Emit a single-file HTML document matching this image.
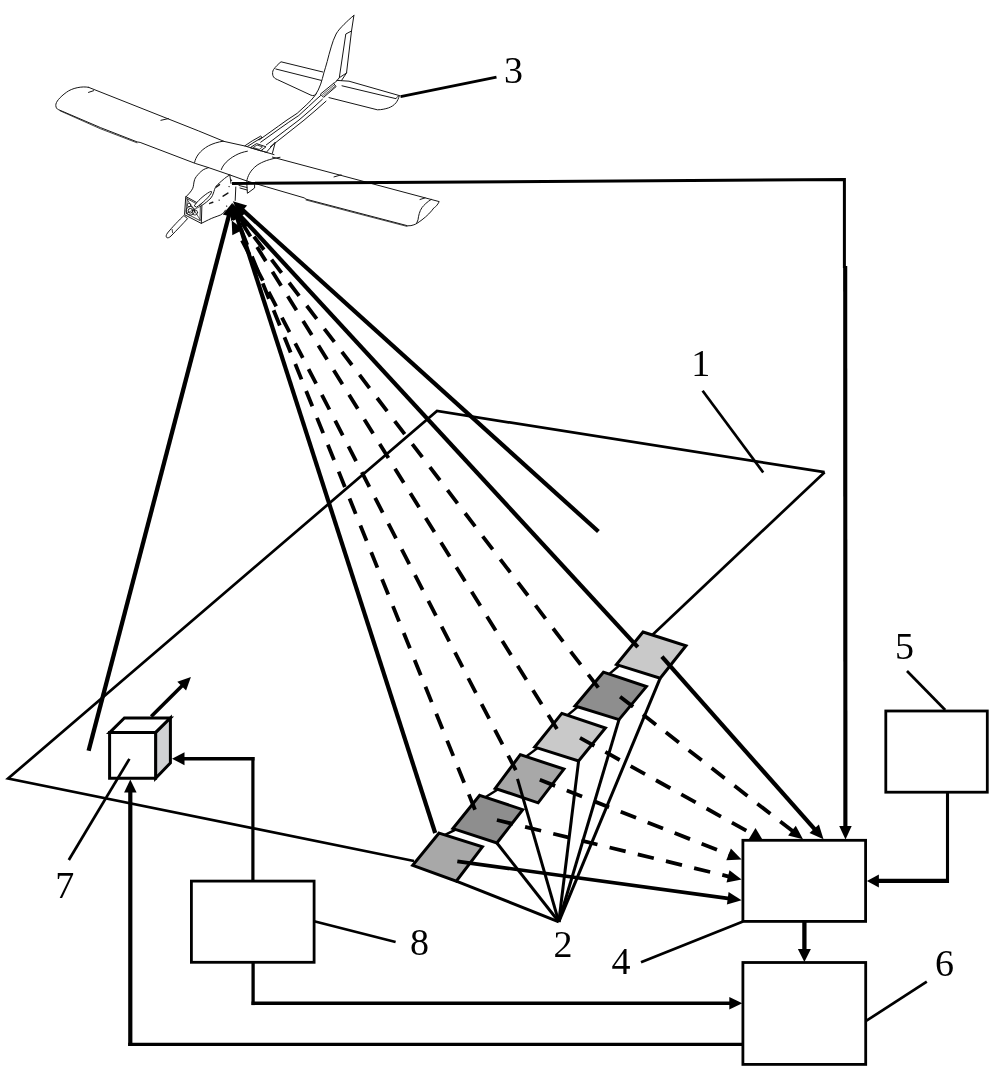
<!DOCTYPE html>
<html><head><meta charset="utf-8"><title>Diagram</title>
<style>
html,body{margin:0;padding:0;background:#fff;}
body{width:989px;height:1077px;overflow:hidden;font-family:"Liberation Serif",serif;}
svg{display:block;will-change:transform;}
text{font-family:"Liberation Serif",serif;fill:#000;}
</style></head><body>
<svg width="989" height="1077" viewBox="0 0 989 1077">
<g fill="none" stroke="#161616" stroke-width="1" stroke-linecap="round" stroke-linejoin="round">
<!-- left wing -->
<path d="M88.5,87.3 C82,86 72,88 66.3,92.4 C60,97 55.5,102 55.8,105.5 C56,108 57,109 58.2,109.5 L100.7,127.7 L137.1,141.9 L140.1,142.4 L195.2,163.4 L208.5,167.6"/>
<path d="M88.5,87.3 L198.8,131 L223.1,141"/>
<path d="M88.5,92.4 L93.6,90.7 M160.9,120.3 L168.4,118.6"/>
<path d="M60,110.8 L100,128.6 L137,142.8" stroke-width="0.8"/>
<!-- center section -->
<path d="M194.6,162.5 C195.5,157 200,150.5 208.5,145.8 C213,143.5 218,142 223.1,141.2"/>
<path d="M221.3,169.6 C223,164.5 228,159.5 235.2,155.5 C239,153.3 243,152 247.4,151.2"/>
<path d="M246.8,181.2 C247.3,176.5 250.5,170 257.1,165.2 C262,161.8 270,158.8 280,157.3"/>
<path d="M223.1,141.2 L244.9,146 L274,154.6"/>
<path d="M208.5,167.6 L229.8,174.9 L246.8,181"/>
<!-- right wing -->
<path d="M272.4,157.1 L439.2,201.6 C437.5,205 435,207.6 434.1,207.6 C431,212 427,216 422,219.8 C419,222 416.5,224 413.9,224.8 C412,225.6 410,225.9 407.8,225.8 L305.7,199.1 L304.7,198 L266.3,186.8 L246.8,181"/>
<path d="M431.1,199.5 C427,202 424,205 422,207.6 C419.5,211 418.5,216 418,219.8 L416.5,223.6"/>
<path d="M334,176.9 L341.1,174.9 M420,199.5 L425,197.9"/>
<path d="M306,200 L350,211.6 L407,226.4" stroke-width="0.8"/>
<!-- bracket under right wing -->
<path d="M246.8,183 L247.4,193.3 L254.6,188 L254.6,184.8 M239,185.5 L247,187.5 M240,188 L247,190"/>
<!-- fuselage -->
<path d="M208.5,167.6 C204,169 201.5,170.5 200,172.5 C197,175.5 195.3,177.5 194.6,179.7 C193.5,183 193.8,185.5 192.8,188.2 C191,192 188,194.5 186.1,196.7"/>
<path d="M186.1,196.7 L201.9,205.4 L201.3,223.4 L184.9,214.9 Z"/>
<path d="M187.6,198.9 L200.4,206 L200,220.6 L186.6,213.7 Z" stroke-width="0.8"/>
<path d="M201.3,223.4 L208.5,219.8 C213,217.5 217,216.5 220.7,214.9 C223,213.5 224.5,211.5 225.5,210.1"/>
<path d="M229.8,174.9 C227,176.5 225,178 223.1,179.7 C220.5,182 218,184 216.4,185.8 C214.5,188.5 214.2,191 213.4,193.1 C212.8,195 212,196.6 211,197.9 C208.5,200.5 205,203.5 201.9,205.4"/>
<path d="M229.8,174.9 L231,183.4 M235.8,187 L235.2,200.4"/>
<path d="M216.4,187 L219.5,184.6 M223.1,196.1 L227.9,193.1 M209.7,203.4 L212.8,202.2" stroke-width="1.5"/>
<path d="M231.5,180 L231.6,180.4 M229,186.5 L229.2,186.7 M219,200 L219.3,200.2 M226.5,206 L226.8,206.2" stroke-width="1.1"/>
<!-- motor -->
<circle cx="190.4" cy="210.8" r="4.3"/>
<circle cx="190.4" cy="210.8" r="2.3"/>
<circle cx="195" cy="212.5" r="2.6" stroke-width="0.8"/>
<circle cx="189" cy="205" r="1.8" stroke-width="0.8"/>
<path d="M186.4,198.2 L200.6,220.4 M200.6,206.2 L186.4,213.4" stroke-width="0.7"/>
<!-- propeller -->
<path d="M194.5,205.5 C197,201.5 204,195 209.5,192 C211,191.2 211.9,191.3 211.6,192.2 C210,196.5 202,203.5 196.8,207 Z" fill="#fff"/>
<path d="M183.6,215.8 C180,219 171.5,228 167.5,233 C166,235 165.8,236.8 166.8,237.6 C167.8,238.2 169.5,237.6 171,236 C176,231 184,222.5 187.3,218.9 Z" fill="#fff"/>
<path d="M172.1,229.4 L172.6,232.6" stroke-width="0.8"/>
<!-- boom mount -->
<path d="M244.9,145.8 L252.2,140.9 L260.7,136.1 L262,137.4 L254,142.3 L247.5,146.4"/>
<path d="M250.5,147.5 L256.5,143.6 L266,146.8 L261,150.6 Z"/>
<path d="M253.5,147.3 L257,145 L262.5,146.9 L259.5,149.2 Z" stroke-width="0.8"/>
<path d="M266.8,151.8 L275.3,142.1 L272.4,153.3 M261,150.6 L266.8,152.6"/>
<!-- tail boom -->
<path d="M260.7,142.2 L280.1,128.3 L288.8,122.2 L298.8,115.5 L308.5,106.6 L316,99.6 L320.7,95.5"/>
<path d="M266.3,144.9 L299,120 L312,108.8 L322.4,99.2"/>
<path d="M270.4,146.8 L304,120.2 L316,110 L326,101.2"/>
<!-- boom/fin joint -->
<path d="M320.7,93.9 L333.6,83.3 L336.1,86.6 L323.9,97.1 Z"/>
<path d="M322.6,94.4 L333.8,85.2 M323.6,95.6 L334.8,86.4" stroke-width="0.7"/>
<!-- fin + boom upper rail -->
<path d="M353.9,15.4 C350,18.5 347,21.5 344.1,24.3 C341,27.5 338,30.5 336.1,34 C334,38 332.5,42.5 331.2,46.9 C329.7,51.8 328.4,56.7 327.2,61.5 C326.1,65.4 325,69.1 323.9,72.8 C322.9,76.7 321.9,80.4 320.7,84.1 C319.3,88.2 317.4,92 315,95.5 C312.6,98.8 309.8,101.7 306.9,104.4 L297.2,113.3 L287,120 L278.5,126.1 L259.1,140"/>
<path d="M353.9,15.4 L351.5,31 L346.5,73 L339.3,77.7 L345.8,34 L351.5,31"/>
<path d="M339.3,77.7 L336.6,81 M346.5,73 L341.5,80.5"/>
<path d="M336.6,81 C335.4,82.2 334.4,83 333.6,83.3"/>
<!-- left stabilizer -->
<path d="M322.8,72 L281,61.8 C278.5,63.8 275.5,66.8 273.5,69.6 C272.4,71.5 272.4,73.6 272.9,75.6 C273.5,77.6 275.2,78.8 277.4,79.6 L311,95.2 C313.5,96.2 315,95.2 316.6,93.6"/>
<path d="M275.8,69 L321.3,80.4"/>
<!-- right stabilizer -->
<path d="M337.1,80.4 L349,81.2 L399.4,95.6 C398.5,98.5 397.5,100.8 396,102.8 C394,105.2 391.5,106.8 388.5,107.9 C385,109 381.5,109.8 377.4,109.8 L329,97.6"/>
<path d="M342,85.8 L395.7,98.6 M395.7,98.6 C396.5,97.6 397.8,96.4 399.4,95.6"/>
</g>

<polyline points="414.0,861.0 8.1,778.5 437.0,411.0 824.6,472.2" fill="none" stroke="#000" stroke-width="2.7" stroke-linejoin="miter"/>
<line x1="824.6" y1="472.2" x2="652.3" y2="635.0" stroke="#000" stroke-width="2.7" stroke-linecap="butt"/>
<line x1="620.5" y1="664.5" x2="607.9" y2="675.1" stroke="#000" stroke-width="2.4" stroke-linecap="butt"/>
<line x1="579.0" y1="705.9" x2="566.3" y2="716.3" stroke="#000" stroke-width="2.4" stroke-linecap="butt"/>
<line x1="538.8" y1="747.1" x2="524.8" y2="757.5" stroke="#000" stroke-width="2.4" stroke-linecap="butt"/>
<line x1="499.3" y1="788.6" x2="484.1" y2="798.0" stroke="#000" stroke-width="2.4" stroke-linecap="butt"/>
<line x1="457.1" y1="828.9" x2="443.5" y2="835.6" stroke="#000" stroke-width="2.4" stroke-linecap="butt"/>
<line x1="660.2" y1="678.2" x2="558.8" y2="921.8" stroke="#000" stroke-width="3.0" stroke-linecap="butt"/>
<line x1="619.0" y1="719.6" x2="558.8" y2="921.8" stroke="#000" stroke-width="3.0" stroke-linecap="butt"/>
<line x1="578.6" y1="761.0" x2="558.8" y2="921.8" stroke="#000" stroke-width="3.0" stroke-linecap="butt"/>
<line x1="496.9" y1="843.0" x2="558.8" y2="921.8" stroke="#000" stroke-width="3.0" stroke-linecap="butt"/>
<line x1="456.3" y1="881.2" x2="558.8" y2="921.8" stroke="#000" stroke-width="3.0" stroke-linecap="butt"/>
<polygon points="643.0,632.0 686.0,645.7 660.2,678.2 616.5,664.6" fill="#c9c9c9" stroke="#000" stroke-width="3.0" stroke-linejoin="miter"/>
<polygon points="603.4,672.2 646.4,686.6 619.0,719.6 575.0,706.0" fill="#8e8e8e" stroke="#000" stroke-width="3.0" stroke-linejoin="miter"/>
<polygon points="561.8,713.4 605.4,728.0 578.6,761.0 534.7,747.1" fill="#c9c9c9" stroke="#000" stroke-width="3.0" stroke-linejoin="miter"/>
<polygon points="520.3,754.7 563.9,769.1 538.1,802.8 495.2,788.4" fill="#a8a8a8" stroke="#000" stroke-width="3.0" stroke-linejoin="miter"/>
<polygon points="479.7,795.3 522.7,809.7 496.9,843.0 452.9,828.6" fill="#8e8e8e" stroke="#000" stroke-width="3.0" stroke-linejoin="miter"/>
<polygon points="439.1,833.1 482.4,846.8 456.3,881.2 412.7,865.4" fill="#a8a8a8" stroke="#000" stroke-width="3.0" stroke-linejoin="miter"/>
<line x1="517.5" y1="778.8" x2="558.8" y2="921.8" stroke="#000" stroke-width="3.0" stroke-linecap="butt"/>
<polygon points="232.0,206.8 245.7,212.5 236.6,221.0" fill="#000"/>
<line x1="637.8" y1="647.1" x2="239.8" y2="215.3" stroke="#000" stroke-width="4.2" stroke-linecap="butt"/>
<polygon points="230.5,206.0 243.7,212.9 233.7,220.5" fill="#000"/>
<line x1="598.3" y1="687.7" x2="237.5" y2="215.1" stroke="#000" stroke-width="3.8" stroke-dasharray="16.5 12.5" stroke-linecap="butt"/>
<polygon points="231.5,206.0 243.9,214.2 233.3,220.8" fill="#000"/>
<line x1="557.0" y1="728.9" x2="237.6" y2="215.8" stroke="#000" stroke-width="3.8" stroke-dasharray="16.5 12.5" stroke-linecap="butt"/>
<polygon points="231.7,220.4 243.4,229.5 232.3,235.3" fill="#000"/>
<line x1="515.8" y1="770.2" x2="237.0" y2="230.6" stroke="#000" stroke-width="3.8" stroke-dasharray="16.5 12.5" stroke-linecap="butt"/>
<polygon points="231.6,206.0 242.4,216.2 230.9,220.9" fill="#000"/>
<line x1="475.0" y1="809.7" x2="235.9" y2="216.7" stroke="#000" stroke-width="3.8" stroke-dasharray="16.5 12.5" stroke-linecap="butt"/>
<polygon points="232.4,203.0 242.5,213.9 230.6,217.8" fill="#000"/>
<line x1="435.2" y1="833.0" x2="235.9" y2="213.9" stroke="#000" stroke-width="4.2" stroke-linecap="butt"/>
<polygon points="232.9,201.2 247.1,205.6 238.7,214.9" fill="#000"/>
<line x1="598.4" y1="531.5" x2="241.4" y2="208.9" stroke="#000" stroke-width="4.2" stroke-linecap="butt"/>
<polygon points="232.2,202.9 234.8,217.5 222.7,214.4" fill="#000"/>
<line x1="88.6" y1="750.8" x2="229.3" y2="214.0" stroke="#000" stroke-width="4.3" stroke-linecap="butt"/>
<polygon points="823.5,839.2 809.5,832.9 818.9,824.6" fill="#000"/>
<line x1="661.9" y1="656.7" x2="815.5" y2="830.2" stroke="#000" stroke-width="4.2" stroke-linecap="butt"/>
<polygon points="803.0,839.2 788.1,835.5 795.8,825.7" fill="#000"/>
<line x1="620.1" y1="696.7" x2="793.5" y2="831.8" stroke="#000" stroke-width="3.8" stroke-dasharray="16.5 12.5" stroke-linecap="butt"/>
<line x1="580.0" y1="737.8" x2="749.5" y2="832.5" stroke="#000" stroke-width="3.8" stroke-dasharray="16.5 12.5" stroke-linecap="butt"/>
<polygon points="748.6,839.5 762.4,839.5 755.5,828" fill="#000"/>
<polygon points="741.6,859.5 726.3,860.2 730.9,848.5" fill="#000"/>
<line x1="539.8" y1="779.8" x2="730.4" y2="855.1" stroke="#000" stroke-width="3.8" stroke-dasharray="16.5 12.5" stroke-linecap="butt"/>
<polygon points="741.6,879.6 726.5,882.4 729.5,870.2" fill="#000"/>
<line x1="496.9" y1="820.0" x2="729.9" y2="876.8" stroke="#000" stroke-width="3.8" stroke-dasharray="16.5 12.5" stroke-linecap="butt"/>
<polygon points="741.6,900.2 726.9,904.5 728.6,892.1" fill="#000"/>
<line x1="457.3" y1="861.3" x2="729.7" y2="898.6" stroke="#000" stroke-width="3.7" stroke-linecap="butt"/>
<rect x="742.9" y="840.3" width="122.7" height="81.1" fill="#fff" stroke="#000" stroke-width="2.8"/>
<rect x="742.9" y="962.5" width="122.8" height="101.9" fill="#fff" stroke="#000" stroke-width="2.8"/>
<rect x="885.8" y="711" width="101.5" height="81.2" fill="#fff" stroke="#000" stroke-width="2.8"/>
<rect x="191.4" y="881.1" width="122.7" height="81.2" fill="#fff" stroke="#000" stroke-width="2.8"/>
<polyline points="232.0,183.5 844.4,179.4 844.4,268.0" fill="none" stroke="#000" stroke-width="3.0" stroke-linejoin="miter"/>
<line x1="845.2" y1="266.0" x2="845.4" y2="830.0" stroke="#000" stroke-width="4.1" stroke-linecap="butt"/>
<polygon points="845.5,839.4 839.2,825.9 851.7,825.9" fill="#000"/>
<line x1="947.5" y1="792.0" x2="947.5" y2="882.8" stroke="#000" stroke-width="3.1" stroke-linecap="butt"/>
<line x1="949.0" y1="880.8" x2="876.0" y2="880.8" stroke="#000" stroke-width="4.2" stroke-linecap="butt"/>
<polygon points="866.9,880.9 878.9,874.4 878.9,887.4" fill="#000"/>
<line x1="804.4" y1="921.0" x2="804.4" y2="952.0" stroke="#000" stroke-width="4.3" stroke-linecap="butt"/>
<polygon points="804.4,962.0 797.9,949.0 810.9,949.0" fill="#000"/>
<line x1="252.9" y1="881.0" x2="252.9" y2="757.0" stroke="#000" stroke-width="3.2" stroke-linecap="butt"/>
<line x1="254.5" y1="758.7" x2="182.0" y2="758.7" stroke="#000" stroke-width="3.5" stroke-linecap="butt"/>
<polygon points="172.0,758.7 184.5,752.2 184.5,765.2" fill="#000"/>
<line x1="253.1" y1="962.0" x2="253.1" y2="1005.1" stroke="#000" stroke-width="3.3" stroke-linecap="butt"/>
<line x1="251.5" y1="1003.3" x2="732.0" y2="1003.3" stroke="#000" stroke-width="3.6" stroke-linecap="butt"/>
<polygon points="742.3,1003.3 729.3,1009.5 729.3,997.0" fill="#000"/>
<line x1="743.0" y1="1044.4" x2="128.2" y2="1044.4" stroke="#000" stroke-width="3.3" stroke-linecap="butt"/>
<line x1="130.3" y1="1046.0" x2="130.3" y2="790.0" stroke="#000" stroke-width="4.2" stroke-linecap="butt"/>
<polygon points="130.3,779.4 136.6,792.4 124.1,792.4" fill="#000"/>
<polygon points="109.6,732.6 124.4,718.0 170.4,718.0 155.6,732.6" fill="#fff" stroke="#000" stroke-width="3.0" stroke-linejoin="miter"/>
<polygon points="155.6,732.6 170.4,718.0 170.4,763.0 155.6,778.3" fill="#d0d1d3" stroke="#000" stroke-width="3.0" stroke-linejoin="miter"/>
<polygon points="109.6,732.6 155.6,732.6 155.6,778.3 109.6,778.3" fill="#fff" stroke="#000" stroke-width="3.0" stroke-linejoin="miter"/>
<polygon points="190.9,676.9 186.1,690.5 177.3,681.7" fill="#000"/>
<line x1="151.2" y1="716.5" x2="183.1" y2="684.7" stroke="#000" stroke-width="3.6" stroke-linecap="butt"/>
<line x1="702.6" y1="390.7" x2="763.2" y2="472.5" stroke="#000" stroke-width="2.7" stroke-linecap="butt"/>
<line x1="400.5" y1="96.6" x2="496.5" y2="77.2" stroke="#000" stroke-width="2.9" stroke-linecap="butt"/>
<line x1="641.0" y1="962.3" x2="743.0" y2="921.4" stroke="#000" stroke-width="2.7" stroke-linecap="butt"/>
<line x1="907.0" y1="671.0" x2="945.2" y2="710.0" stroke="#000" stroke-width="2.7" stroke-linecap="butt"/>
<line x1="926.8" y1="981.6" x2="865.7" y2="1021.2" stroke="#000" stroke-width="2.7" stroke-linecap="butt"/>
<line x1="129.4" y1="758.9" x2="68.8" y2="860.0" stroke="#000" stroke-width="2.7" stroke-linecap="butt"/>
<line x1="314.1" y1="921.2" x2="395.6" y2="942.0" stroke="#000" stroke-width="2.7" stroke-linecap="butt"/>
<g>
<text x="700.8" y="376" font-size="38" text-anchor="middle">1</text>
<text x="513.4" y="82.9" font-size="38" text-anchor="middle">3</text>
<text x="563.1" y="956.6" font-size="38" text-anchor="middle">2</text>
<text x="621.1" y="973.6" font-size="38" text-anchor="middle">4</text>
<text x="904.6" y="659.2" font-size="38" text-anchor="middle">5</text>
<text x="944.4" y="976" font-size="38" text-anchor="middle">6</text>
<text x="64.7" y="897.7" font-size="38" text-anchor="middle">7</text>
<text x="419.4" y="955" font-size="38" text-anchor="middle">8</text>
</g>
</svg>
</body></html>
